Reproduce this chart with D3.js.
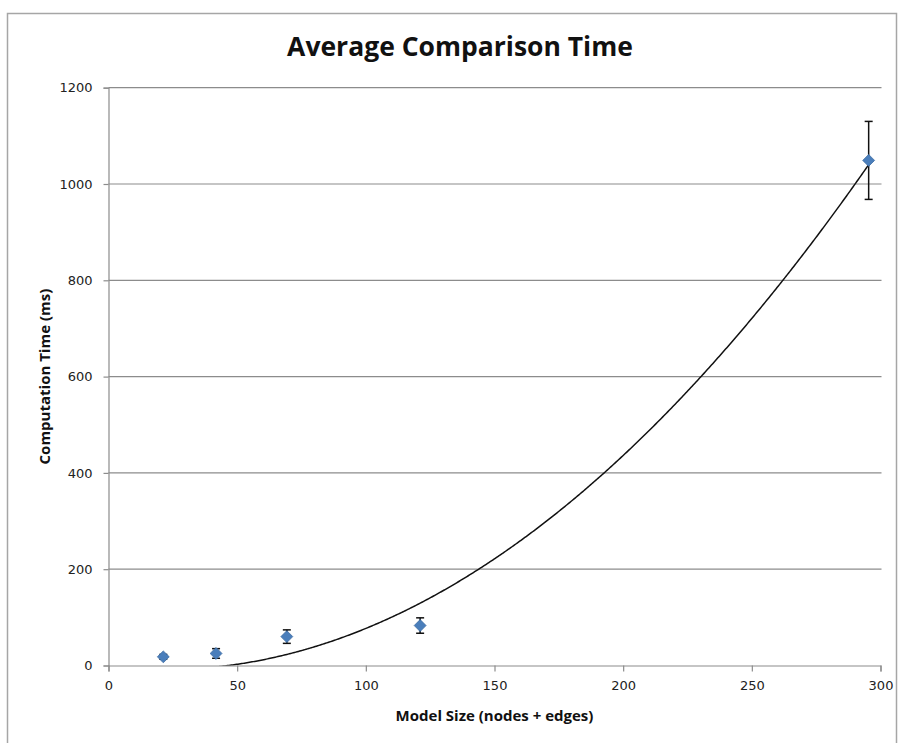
<!DOCTYPE html>
<html>
<head>
<meta charset="utf-8">
<script src="https://cdn.jsdelivr.net/npm/d3@7"></script>
<style>
  body { margin: 0; background: #fff; }
  svg { display: block; }
</style>
</head>
<body>
<div id="main"></div>
<script>
// data
var modelSize = [21.3, 41.8, 69.3, 121.1, 295.4];
var avgTime = [18, 25, 60, 83, 1049];
var timeErr = [5, 10, 14, 16, 81];
var xTicks = [0, 50, 100, 150, 200, 250, 300];
var yTicks = [0, 200, 400, 600, 800, 1000, 1200];
// polynomial trendline shown on the chart, c0 + c1*x + c2*x^2
var trendCoef = [-1.90, -0.6122, 0.014013];

var w = 899,
	h = 743;

var pLeft = 108.5, pRight = 880.5, pTop = 87.7, pBottom = 665.5;

var x = d3.scaleLinear().domain([0, 300]).range([pLeft, pRight]);
var y = d3.scaleLinear().domain([0, 1200]).range([pBottom, pTop]);

var svg = d3.select("#main")
	.append("svg")
	.attr("width", w)
	.attr("height", h);

// outer chart frame
svg.append("rect")
	.attr("x", 7.5).attr("y", 13.5)
	.attr("width", 889).attr("height", 760)
	.attr("fill", "none")
	.attr("stroke", "#a6a6a6")
	.attr("stroke-width", 1.5);

// title
svg.append("text")
	.attr("x", 460).attr("y", 56)
	.attr("text-anchor", "middle")
	.style("font-family", "Open Sans")
	.style("font-weight", "bold")
	.style("font-size", "26.5px")
	.attr("fill", "#111")
	.text("Average Comparison Time");

// gridlines
svg.append("g")
	.selectAll("line")
	.data(yTicks.filter(function(d) { return d > 0; }))
	.enter()
	.append("line")
	.attr("x1", pLeft).attr("x2", pRight + 1)
	.attr("y1", function(d) { return y(d); })
	.attr("y2", function(d) { return y(d); })
	.attr("stroke", "#8c8c8c")
	.attr("stroke-width", 1.2);

// axes
var yAxis = svg.append("g")
	.attr("transform", "translate(" + pLeft + ",0)")
	.call(d3.axisLeft(y).tickValues(yTicks).tickFormat(d3.format("d")).tickSize(5).tickPadding(11));

var xAxis = svg.append("g")
	.attr("transform", "translate(0," + pBottom + ")")
	.call(d3.axisBottom(x).tickValues(xTicks).tickFormat(d3.format("d")).tickSize(6).tickPadding(9));

[xAxis, yAxis].forEach(function(a) {
	a.select(".domain").attr("stroke", "#8c8c8c").attr("stroke-width", 1.2);
	a.selectAll(".tick line").attr("stroke", "#8c8c8c").attr("stroke-width", 1.2);
	a.selectAll("text")
		.style("font-family", "DejaVu Sans")
		.style("font-size", "13px")
		.attr("fill", "#222");
});

// axis titles
svg.append("text")
	.attr("x", (pLeft + pRight) / 2).attr("y", 721)
	.attr("text-anchor", "middle")
	.style("font-family", "Open Sans")
	.style("font-weight", "bold")
	.style("font-size", "15px")
	.attr("fill", "#111")
	.text("Model Size (nodes + edges)");

svg.append("text")
	.attr("transform", "translate(50," + (pTop + pBottom) / 2 + ") rotate(-90)")
	.attr("text-anchor", "middle")
	.style("font-family", "Open Sans")
	.style("font-weight", "bold")
	.style("font-size", "15px")
	.attr("fill", "#111")
	.text("Computation Time (ms)");

// trendline, clipped to the plot area like the spreadsheet does
function polyVal(c, v) {
	return d3.sum(c, function(a, i) { return a * Math.pow(v, i); });
}

svg.append("clipPath").attr("id", "plotclip")
	.append("rect")
	.attr("x", pLeft).attr("y", pTop - 5)
	.attr("width", pRight - pLeft).attr("height", pBottom - pTop + 5);

var xs = d3.range(d3.min(modelSize), d3.max(modelSize) + 0.5, 0.5);
svg.append("path")
	.datum(xs)
	.attr("clip-path", "url(#plotclip)")
	.attr("fill", "none")
	.attr("stroke", "#111")
	.attr("stroke-width", 1.5)
	.attr("d", d3.line()
		.x(function(d) { return x(d); })
		.y(function(d) { return y(polyVal(trendCoef, d)); }));

// error bars
var pts = modelSize.map(function(d, i) { return { x: d, y: avgTime[i], e: timeErr[i] }; });
var eb = svg.append("g").attr("stroke", "#111").attr("stroke-width", 1.5);
eb.selectAll(".bar").data(pts).enter().append("line")
	.attr("x1", function(d) { return x(d.x); }).attr("x2", function(d) { return x(d.x); })
	.attr("y1", function(d) { return y(d.y + d.e); }).attr("y2", function(d) { return y(d.y - d.e); });
eb.selectAll(".capt").data(pts).enter().append("line")
	.attr("x1", function(d) { return x(d.x) - 4; }).attr("x2", function(d) { return x(d.x) + 4; })
	.attr("y1", function(d) { return y(d.y + d.e); }).attr("y2", function(d) { return y(d.y + d.e); });
eb.selectAll(".capb").data(pts).enter().append("line")
	.attr("x1", function(d) { return x(d.x) - 4; }).attr("x2", function(d) { return x(d.x) + 4; })
	.attr("y1", function(d) { return y(d.y - d.e); }).attr("y2", function(d) { return y(d.y - d.e); });

// markers
svg.append("g").selectAll("path").data(pts).enter().append("path")
	.attr("transform", function(d) { return "translate(" + x(d.x) + "," + y(d.y) + ")"; })
	.attr("d", d3.symbol().type(d3.symbolDiamond2).size(90))
	.attr("fill", "#4a7ebb")
	.attr("stroke", "#3d6ca3")
	.attr("stroke-width", 0.8);
</script>
</body>
</html>
